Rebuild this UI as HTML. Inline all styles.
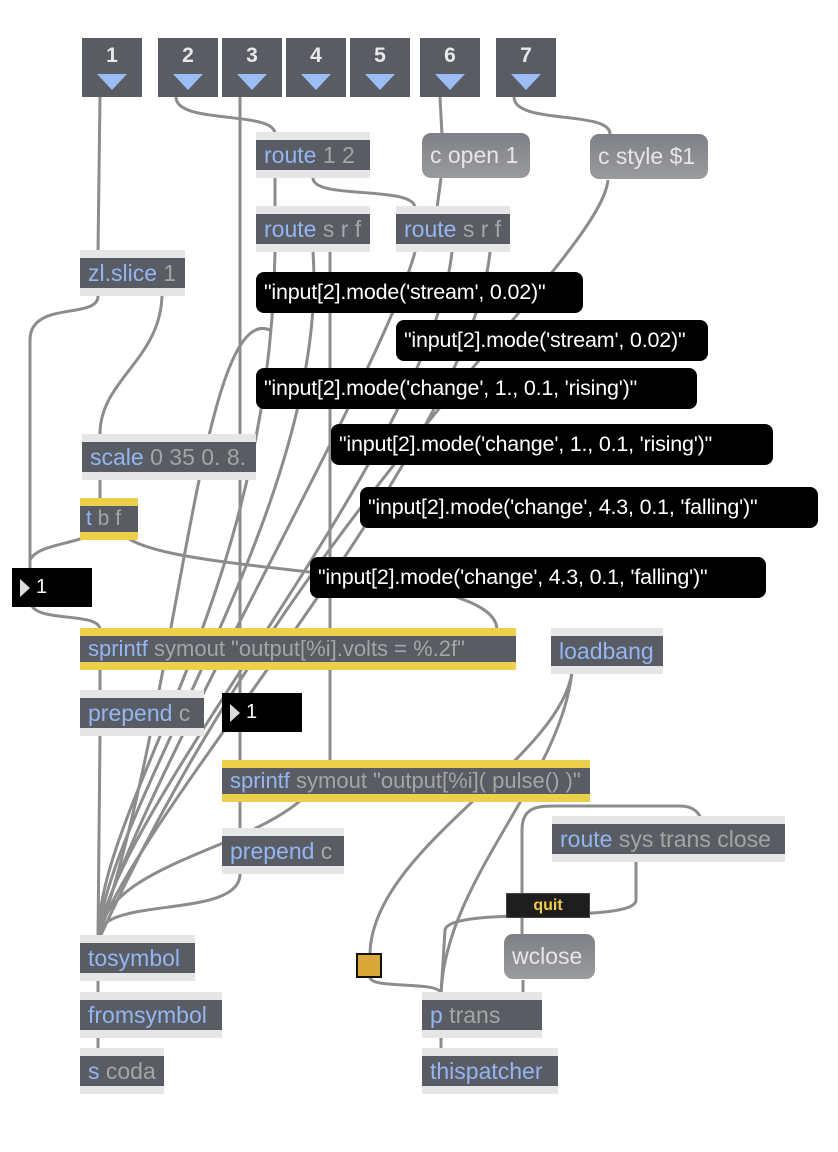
<!DOCTYPE html>
<html><head><meta charset="utf-8"><style>
body{margin:0;width:838px;height:1152px;background:#fff;position:relative;overflow:hidden;font-family:"Liberation Sans",Arial,sans-serif}
svg{position:absolute;left:0;top:0;z-index:0}
.in,.o,.m,.c,.n,.q{z-index:1}
.in{position:absolute;top:38px;width:60px;height:59px;background:#595c63;color:#e8e8e8;font-weight:bold;font-size:21px;text-align:center}
.in span{display:block;margin-top:7px;line-height:22px}
.in i{position:absolute;left:15px;top:36px;width:0;height:0;border-left:15px solid transparent;border-right:15px solid transparent;border-top:16px solid #9cbcf5}
.o{position:absolute;height:46px;background:#e6e6e6}
.o b{position:absolute;left:0;right:0;top:8px;height:30px;background:#595c63;font-weight:normal;color:#a5a5a5;font-size:23px;line-height:30px;padding-left:8px;white-space:nowrap;box-sizing:border-box;font-family:"Liberation Sans",sans-serif;overflow:hidden}
.o b em{font-style:normal;color:#93b6f2}
.y{background:#ecd04c}
.m{position:absolute;border-radius:9px;background:linear-gradient(#7d8086,#9a9b9e);color:#e6e6e6;font-size:23px;line-height:45px;height:45px;padding-left:8px;box-sizing:border-box;font-family:"Liberation Sans",sans-serif}
.c{position:absolute;background:#000;color:#fff;border-radius:8px;height:41px;line-height:41px;font-size:21.5px;padding-left:8px;box-sizing:border-box;white-space:nowrap;letter-spacing:-0.2px}
.n{position:absolute;background:#000;color:#fff;height:39px;width:80px;font-size:20px;line-height:39px}
.n i{position:absolute;left:8px;top:11px;border-top:9px solid transparent;border-bottom:9px solid transparent;border-left:10px solid #ddd}
.n span{position:absolute;left:24px}
</style></head><body>
<svg width="838" height="1152" fill="none" stroke="#8c8c8c" stroke-width="3">
<path d="M100 97 L98 252"/>
<path d="M176 97 C176 125 275 110 275 134"/>
<path d="M240 97 L240 760"/>
<path d="M440 97 L442 135 M441 178 L437 208"/>
<path d="M514 97 C514 125 610 110 610 134"/>
<path d="M275 178 L275 208 M313 178 C313 200 415 185 415 208"/>
<path d="M608 180 C600 260 300 500 100 937"/>
<path d="M275 252 C270 600 100 800 98 937"/>
<path d="M313 252 C330 500 110 800 98 937"/>
<path d="M330 252 L330 760"/>
<path d="M330 760 C300 850 110 850 98 937"/>
<path d="M415 252 C380 380 130 800 98 937"/>
<path d="M452 252 C430 450 120 800 98 937"/>
<path d="M490 252 C470 450 130 820 98 937"/>
<path d="M270 330 C200 300 180 700 98 937"/>
<path d="M98 296 C98 320 30 300 30 340 L30 600 C30 625 100 610 100 630"/>
<path d="M30 560 C40 540 98 545 98 524"/>
<path d="M162 296 C160 360 100 380 100 434"/>
<path d="M100 478 L100 500"/>
<path d="M118 524 C118 580 497 560 497 630"/>
<path d="M100 670 L100 692 M100 736 L98 937"/>
<path d="M240 801 L240 830 M240 874 C240 920 98 895 98 937"/>
<path d="M98 980 L98 994 M98 1037 L98 1050"/>
<path d="M572 672 C560 760 370 850 370 955"/>
<path d="M572 672 C560 780 445 880 441 994"/>
<path d="M370 977 C370 990 441 980 441 994"/>
<path d="M636 862 L636 900 C636 925 450 905 445 930 L441 994"/>
<path d="M522 893 L522 830 C522 805 540 806 560 806 L680 806 C695 806 700 815 700 818"/>
<path d="M522 917 L522 936 M523 980 L523 994"/>
<path d="M441 1037 L441 1050"/>
</svg>
<div class="in" style="left:82px"><span>1</span><i></i></div>
<div class="in" style="left:158px"><span>2</span><i></i></div>
<div class="in" style="left:222px"><span>3</span><i></i></div>
<div class="in" style="left:286px"><span>4</span><i></i></div>
<div class="in" style="left:350px"><span>5</span><i></i></div>
<div class="in" style="left:420px"><span>6</span><i></i></div>
<div class="in" style="left:496px"><span>7</span><i></i></div>

<div class="o" style="left:256px;top:132px;width:114px"><b><em>route</em> 1 2</b></div>
<div class="o" style="left:256px;top:206px;width:114px"><b><em>route</em> s r f</b></div>
<div class="o" style="left:396px;top:206px;width:114px"><b><em>route</em> s r f</b></div>
<div class="m" style="left:422px;top:133px;width:108px">c open 1</div>
<div class="m" style="left:590px;top:134px;width:118px">c style $1</div>
<div class="o" style="left:80px;top:250px;width:105px"><b><em>zl.slice</em> 1</b></div>
<div class="o" style="left:82px;top:434px;width:174px"><b><em>scale</em> 0 35 0. 8.</b></div>
<div class="o y" style="left:80px;top:498px;width:58px;height:42px"><b style="height:26px;line-height:26px;padding-left:6px;font-size:21px"><em>t</em> b f</b></div>
<div class="n" style="left:12px;top:568px"><i></i><span>1</span></div>
<div class="o y" style="left:80px;top:628px;width:436px;height:42px"><b style="height:26px;line-height:26px;font-size:22px"><em>sprintf</em> symout "output[%i].volts = %.2f"</b></div>
<div class="o" style="left:551px;top:628px;width:112px"><b><em>loadbang</em></b></div>
<div class="o" style="left:80px;top:690px;width:124px"><b><em>prepend</em> c</b></div>
<div class="n" style="left:222px;top:693px"><i></i><span>1</span></div>
<div class="o y" style="left:222px;top:760px;width:368px;height:42px"><b style="height:26px;line-height:26px;font-size:22px"><em>sprintf</em> symout "output[%i]( pulse() )"</b></div>
<div class="o" style="left:222px;top:828px;width:122px"><b><em>prepend</em> c</b></div>
<div class="o" style="left:552px;top:816px;width:233px"><b><em>route</em> sys trans close</b></div>
<div class="q" style="position:absolute;left:506px;top:893px;width:84px;height:25px;background:#1e1e1e;border:1px solid #444;box-sizing:border-box;color:#f2c84b;font-size:16px;font-weight:bold;text-align:center;line-height:24px">quit</div>
<div class="m" style="left:504px;top:934px;width:91px">wclose</div>
<div class="q" style="position:absolute;left:356px;top:953px;width:26px;height:25px;background:#d9a83a;border:2px solid #111;box-sizing:border-box"></div>
<div class="o" style="left:80px;top:935px;width:115px"><b><em>tosymbol</em></b></div>
<div class="o" style="left:80px;top:992px;width:142px"><b><em>fromsymbol</em></b></div>
<div class="o" style="left:80px;top:1048px;width:84px"><b><em>s</em> coda</b></div>
<div class="o" style="left:422px;top:992px;width:120px"><b><em>p</em> trans</b></div>
<div class="o" style="left:422px;top:1048px;width:136px"><b><em>thispatcher</em></b></div>

<div class="c" style="left:256px;top:272px;width:327px">"input[2].mode('stream', 0.02)"</div>
<div class="c" style="left:396px;top:320px;width:312px">"input[2].mode('stream', 0.02)"</div>
<div class="c" style="left:256px;top:368px;width:441px">"input[2].mode('change', 1., 0.1, 'rising')"</div>
<div class="c" style="left:331px;top:424px;width:442px">"input[2].mode('change', 1., 0.1, 'rising')"</div>
<div class="c" style="left:360px;top:487px;width:458px">"input[2].mode('change', 4.3, 0.1, 'falling')"</div>
<div class="c" style="left:310px;top:557px;width:456px">"input[2].mode('change', 4.3, 0.1, 'falling')"</div>
</body></html>
